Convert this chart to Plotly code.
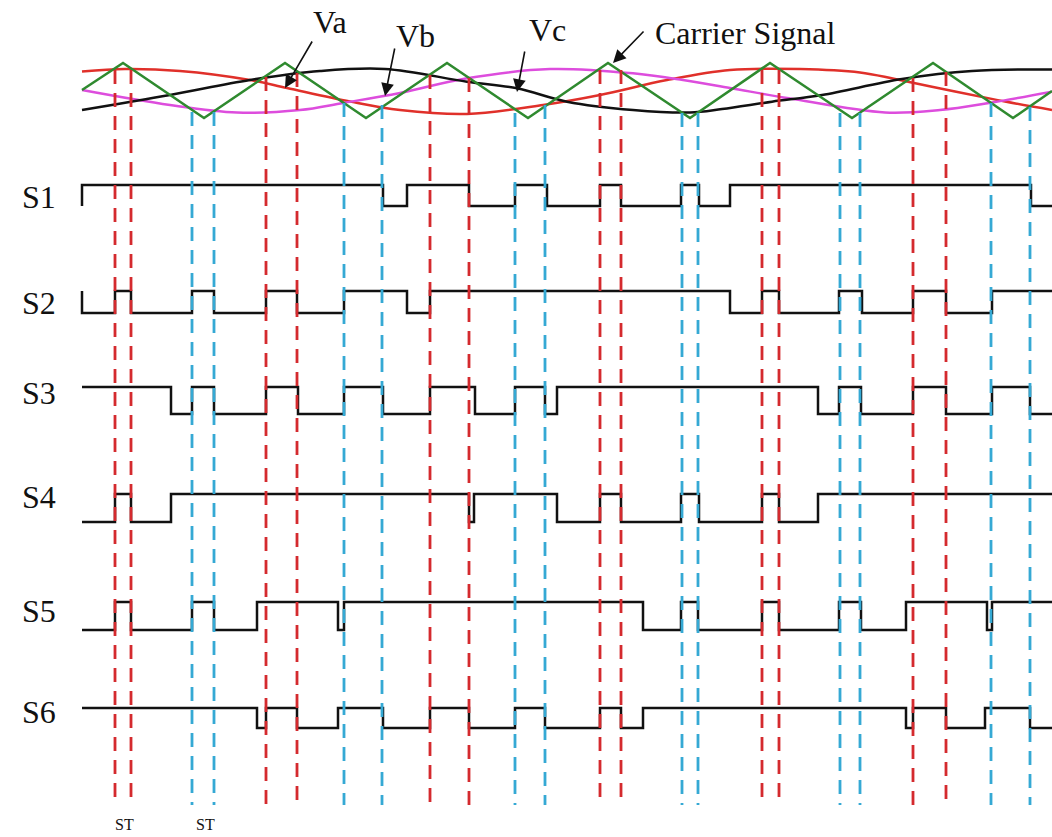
import plotly.graph_objects as go

# ---------------- data ----------------
# three-phase references (time, level)  -- level axis grows downward
va_t = [82, 125, 180, 250, 287, 350, 400, 467, 543, 600, 667, 730, 800, 860, 895, 955, 1005, 1052]
va_v = [71.5, 69, 71, 80, 88, 101.5, 110, 114, 105, 95, 80, 70, 69, 72.5, 79, 91.5, 101.5, 110]
vb_t = [82, 170, 237, 300, 343, 400, 467, 550, 633, 683, 730, 789, 885, 940, 989, 1052]
vb_v = [90, 105, 112.5, 110, 103, 93, 78.3, 69, 73.3, 80, 88, 98.3, 112.5, 110, 103, 91.7]
vc_t = [82, 170, 250, 320, 385, 467, 517, 567, 633, 690, 722, 772, 822, 902, 972, 1052]
vc_v = [110, 95, 80, 71, 69, 81.7, 88.3, 101.7, 110, 112.5, 109, 101.7, 95, 79, 71, 69.5]
# triangular carrier
car_t = [82, 123, 204, 285, 366, 447, 528, 608, 690, 770, 852, 933, 1013, 1052]
car_v = [90, 63, 118, 63, 118, 63, 118, 63, 118, 63, 118, 63, 118, 91]

# switching signals: transition times and logic state (1 = on)
switch_names = ["S1", "S2", "S3", "S4", "S5", "S6"]
s1_t = [82, 82, 383, 407, 469, 515, 547, 600, 621, 681, 699, 730, 1031, 1052]
s1_s = [0, 1, 0, 1, 0, 1, 0, 1, 0, 1, 0, 1, 0, 0]
s2_t = [82, 82, 115, 131, 192, 214, 266, 297, 344, 407, 430, 730, 762, 779, 839, 862, 913, 946, 992, 1052]
s2_s = [1, 0, 1, 0, 1, 0, 1, 0, 1, 0, 1, 0, 1, 0, 1, 0, 1, 0, 1, 1]
s3_t = [82, 171, 192, 214, 266, 298, 344, 383, 430, 475, 515, 545, 557, 818, 839, 861, 913, 946, 992, 1030, 1052]
s3_s = [1, 0, 1, 0, 1, 0, 1, 0, 1, 0, 1, 0, 1, 0, 1, 0, 1, 0, 1, 0, 0]
s4_t = [82, 115, 131, 171, 469, 474, 557, 600, 621, 681, 699, 762, 779, 818, 1052]
s4_s = [0, 1, 0, 1, 0, 1, 0, 1, 0, 1, 0, 1, 0, 1, 1]
s5_t = [82, 115, 131, 192, 214, 257, 338, 344, 643, 681, 698, 762, 779, 839, 861, 906, 987, 992, 1052]
s5_s = [0, 1, 0, 1, 0, 1, 0, 1, 0, 1, 0, 1, 0, 1, 0, 1, 0, 1, 1]
s6_t = [82, 257, 266, 297, 338, 383, 430, 469, 515, 545, 600, 621, 643, 906, 913, 946, 985, 1030, 1052]
s6_s = [1, 0, 1, 0, 1, 0, 1, 0, 1, 0, 1, 0, 1, 0, 1, 0, 1, 0, 0]

# carrier/reference crossing instants
red_lines_t = [115, 131, 266, 297, 430, 469, 600, 621, 762, 779, 913, 946]
red_lines_top = [70, 70, 77, 73, 75, 78, 70, 70, 70, 70, 78, 72]
blue_lines_t = [192, 214, 344, 382, 515, 545, 682, 698, 840, 860, 991, 1030]
blue_lines_top = [112, 112, 103, 105, 113, 105, 113, 113, 113, 113, 103, 107]
st_label_t = [124, 205]

# ---------------- layout constants ----------------
W, H = 1052, 837
row_high = [185, 291, 387, 494, 602, 708]
row_low = [206, 313, 414, 522, 630, 728]
row_label_y = [197, 303, 393, 497, 611, 712]
line_bottom = 805
SERIF = "Liberation Serif, Times New Roman, serif"

fig = go.Figure()

def add_line(x, y, color, width=2.5, shape="linear", dash=None, smoothing=None):
    line = dict(color=color, width=width, shape=shape)
    if dash:
        line["dash"] = dash
    if smoothing is not None:
        line["smoothing"] = smoothing
    fig.add_trace(go.Scatter(x=x, y=y, mode="lines", line=line,
                             hoverinfo="skip", showlegend=False))

# references and carrier
add_line(va_t, va_v, "#e0302a", 2.5, "spline", smoothing=1.0)
add_line(vb_t, vb_v, "#dd4ddd", 2.5, "spline", smoothing=1.0)
add_line(vc_t, vc_v, "#111111", 2.5, "spline", smoothing=1.0)
add_line(car_t, car_v, "#2f8a2f", 2.5)

# switching signals
sig_t = [s1_t, s2_t, s3_t, s4_t, s5_t, s6_t]
sig_s = [s1_s, s2_s, s3_s, s4_s, s5_s, s6_s]
for i, (tt, ss) in enumerate(zip(sig_t, sig_s)):
    yy = [row_high[i] if s else row_low[i] for s in ss]
    add_line(tt, yy, "#111111", 2.5, "hv")

# dashed crossing lines
def dashed(ts, tops, color):
    xs, ys = [], []
    for t, top in zip(ts, tops):
        xs += [t, t, None]
        ys += [top, line_bottom, None]
    add_line(xs, ys, color, 2.8, dash="14px,9px")

dashed(red_lines_t, red_lines_top, "#d42a2e")
dashed(blue_lines_t, blue_lines_top, "#35a9d4")

annotations = []
for name, y in zip(switch_names, row_label_y):
    annotations.append(dict(x=20, y=y, text=name, showarrow=False, xanchor="left",
                            yanchor="middle", font=dict(family=SERIF, size=32, color="#111")))
for t in st_label_t:
    annotations.append(dict(x=t, y=824, text="ST", showarrow=False, xanchor="center",
                            yanchor="middle", borderpad=0,
                            font=dict(family=SERIF, size=16, color="#111")))

labels = [("Va", 330, 22), ("Vb", 415, 36), ("Vc", 547, 30), ("Carrier Signal", 745, 33)]
for txt, x, y in labels:
    annotations.append(dict(x=x, y=y, text=txt, showarrow=False, xanchor="center",
                            yanchor="middle", font=dict(family=SERIF, size=32, color="#111")))

arrows = [((313, 40), (285, 88)), ((395, 47), (385, 96)), ((525, 50), (517, 92)), ((645, 30), (613, 63))]
for (tx, ty), (hx, hy) in arrows:
    annotations.append(dict(x=hx, y=hy, ax=tx, ay=ty, axref="x", ayref="y", xref="x", yref="y",
                            text="", showarrow=True, arrowhead=2, arrowsize=1.6,
                            arrowwidth=1.6, arrowcolor="#111", standoff=0, startstandoff=0))

fig.update_layout(
    width=W, height=H,
    margin=dict(l=0, r=0, t=0, b=0),
    paper_bgcolor="white", plot_bgcolor="white",
    xaxis=dict(range=[0, W], visible=False, fixedrange=True),
    yaxis=dict(range=[H, 0], visible=False, fixedrange=True),
    annotations=annotations,
)

fig.write_html("out.html", config={"displayModeBar": False})
